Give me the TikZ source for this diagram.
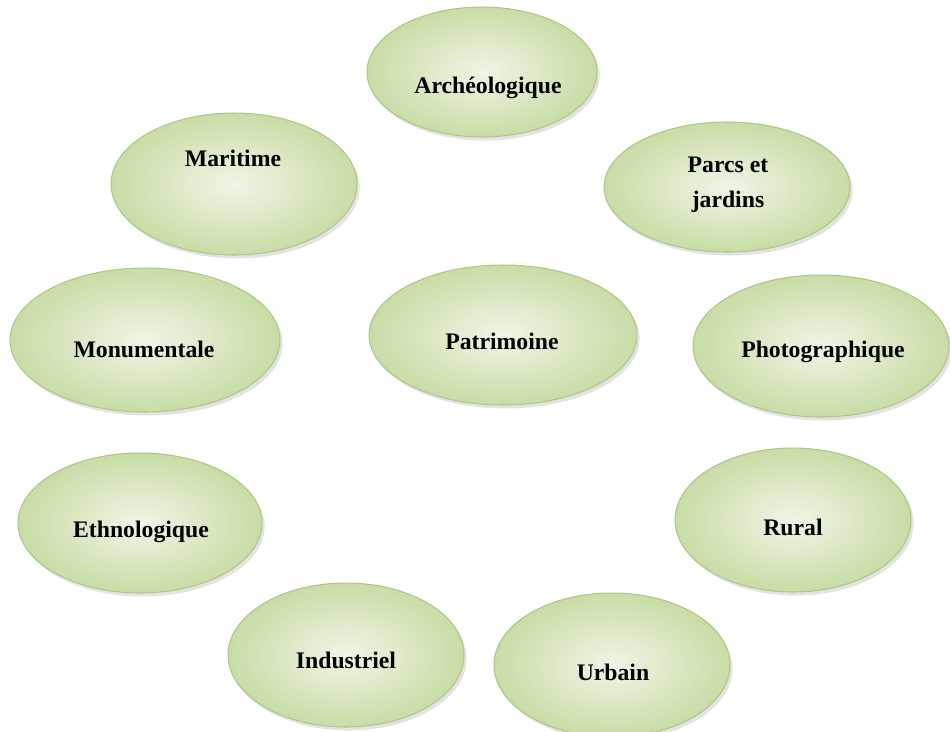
\documentclass[tikz,border=0pt]{standalone}
\usepackage{fontspec}
\setmainfont{Liberation Serif}
\usetikzlibrary{shapes.geometric,shadows}

\definecolor{leafin}{HTML}{F0F5E6}
\definecolor{leafout}{HTML}{C9DCA6}
\definecolor{leafrim}{HTML}{AEC785}

\tikzset{
  blob/.style={ellipse, draw=leafrim, line width=0.6pt, inner sep=0pt,
    inner color=leafin, outer color=leafout,
    drop shadow={opacity=0.22, shadow xshift=1.5pt, shadow yshift=-2pt}},
  lbl/.style={font=\fontsize{13.5}{20}\selectfont\bfseries, align=center, text=black}
}

\begin{document}
\begin{tikzpicture}[x=0.02cm,y=-0.02cm]
  \useasboundingbox (0,0) rectangle (950,731);
  % ellipses, one per kind of heritage
  \node[blob, minimum width=4.6cm, minimum height=2.6cm] (arch) at (482,72) {};
  \node[blob, minimum width=4.92cm, minimum height=2.84cm] (mar) at (234,184) {};
  \node[blob, minimum width=4.92cm, minimum height=2.6cm] (parc) at (727,187) {};
  \node[blob, minimum width=5.4cm, minimum height=2.88cm] (monu) at (145,340) {};
  \node[blob, minimum width=5.36cm, minimum height=2.8cm] (patr) at (503,335) {};
  \node[blob, minimum width=5.12cm, minimum height=2.84cm] (photo) at (821,346) {};
  \node[blob, minimum width=4.88cm, minimum height=2.8cm] (ethno) at (140,523) {};
  \node[blob, minimum width=4.72cm, minimum height=2.88cm] (rural) at (793,520) {};
  \node[blob, minimum width=4.72cm, minimum height=2.88cm] (indus) at (346,655) {};
  \node[blob, minimum width=4.72cm, minimum height=2.88cm] (urb) at (612,665) {};
  % labels
  \node[lbl] (archtxt) at (488,88) {Archéologique};
  \node[lbl] (martxt) at (233,158) {Maritime};
  \node[lbl] (parctxt) at (728,185) {Parcs et\\jardins};
  \node[lbl] (monutxt) at (144,349) {Monumentale};
  \node[lbl] (patrtxt) at (502,341) {Patrimoine};
  \node[lbl] (phototxt) at (823,352) {Photographique};
  \node[lbl] (ethnotxt) at (141,532) {Ethnologique};
  \node[lbl] (ruraltxt) at (793,527) {Rural};
  \node[lbl] (industxt) at (346,660) {Industriel};
  \node[lbl] (urbtxt) at (613,672) {Urbain};
\end{tikzpicture}
\end{document}
